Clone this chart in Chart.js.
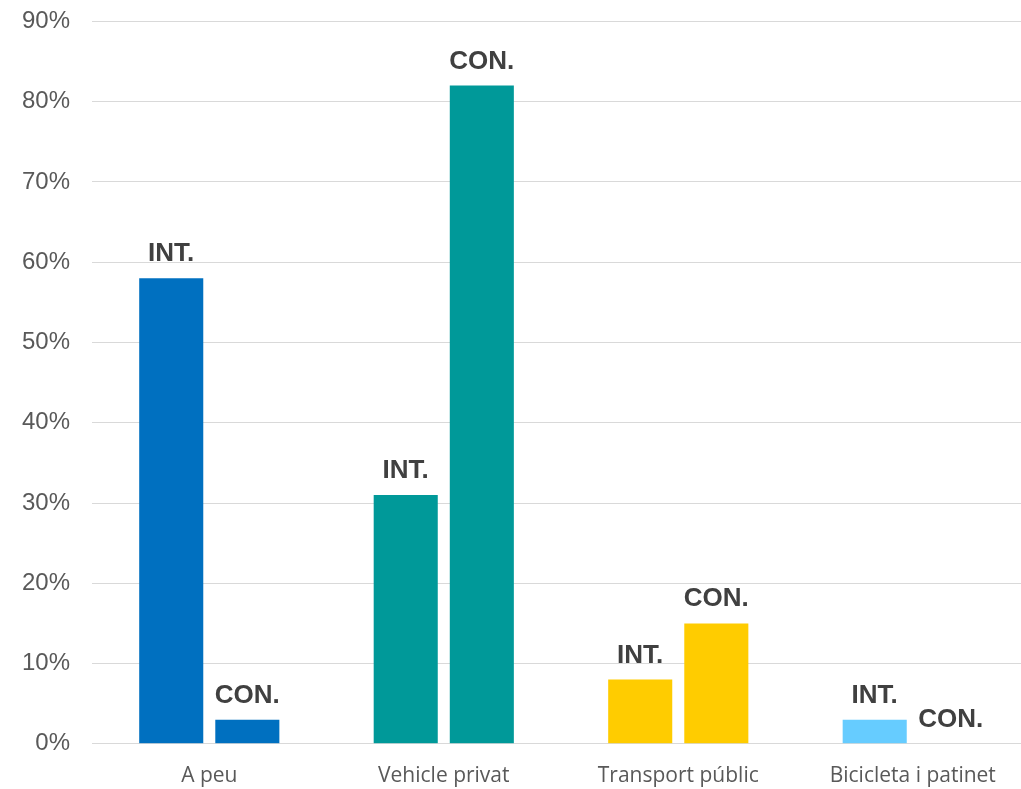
<!DOCTYPE html>
<html>
<head>
<meta charset="utf-8">
<script src="https://cdn.jsdelivr.net/npm/chart.js@4"></script>
<style>
  html, body { margin: 0; padding: 0; background: #fff; overflow: hidden; width: 1021px; height: 789px; }
  #wrap { position: relative; top: -15px; width: 1040px; height: 816px; }
</style>
</head>
<body>
<div id="wrap"><canvas id="chart"></canvas></div>
<script>
const categories = ['A peu', 'Vehicle privat', 'Transport públic', 'Bicicleta i patinet'];
const intValues = [58, 31, 8, 3];
const conValues = [3, 82, 15, 0];
const seriesLabels = ['INT.', 'CON.'];
const barColors = ['#0070C0', '#009999', '#FFCC00', '#66CCFF'];

// draws INT. / CON. above each bar
const barLabels = {
  id: 'barLabels',
  afterDatasetsDraw(chart) {
    const ctx = chart.ctx;
    ctx.save();
    ctx.font = 'bold 26px "Liberation Sans", Arial, sans-serif';
    ctx.fillStyle = '#404040';
    ctx.textAlign = 'center';
    ctx.textBaseline = 'alphabetic';
    chart.data.datasets.forEach((ds, i) => {
      chart.getDatasetMeta(i).data.forEach((bar) => {
        ctx.fillText(seriesLabels[i], bar.x, bar.y - 17);
      });
    });
    ctx.restore();
  }
};

new Chart(document.getElementById('chart'), {
  type: 'bar',
  data: {
    labels: categories,
    datasets: [
      { label: seriesLabels[0], data: intValues, backgroundColor: barColors },
      { label: seriesLabels[1], data: conValues, backgroundColor: barColors }
    ]
  },
  options: {
    responsive: true,
    maintainAspectRatio: false,
    animation: false,
    layout: { padding: { top: 0, right: 10, bottom: 0, left: 0 } },
    datasets: { bar: { categoryPercentage: 0.649, barPercentage: 0.842 } },
    plugins: { legend: { display: false }, tooltip: { enabled: false } },
    scales: {
      x: {
        grid: { display: false },
        border: { color: '#d9d9d9', width: 1 },
        ticks: { color: '#595959', font: { family: '"Open Sans", sans-serif', size: 21 }, padding: 12 }
      },
      y: {
        min: 0, max: 90,
        grid: { color: '#d9d9d9', drawTicks: false },
        border: { display: false },
        ticks: {
          stepSize: 10,
          padding: 22,
          color: '#595959',
          font: { family: '"Liberation Sans", Arial, sans-serif', size: 24 },
          callback: (v) => v + '%'
        }
      }
    }
  },
  plugins: [barLabels]
});
</script>
</body>
</html>
